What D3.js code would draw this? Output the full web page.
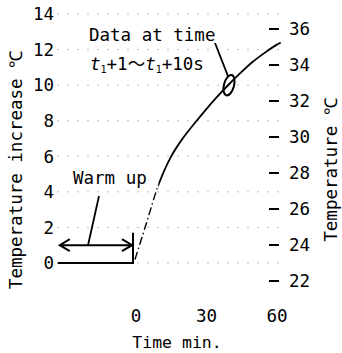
<!DOCTYPE html>
<html>
<head>
<meta charset="utf-8">
<script src="https://cdn.jsdelivr.net/npm/d3@7"></script>
<style>
  body { margin: 0; background: #fff; }
  svg text { font-family: "DejaVu Sans Mono", "Liberation Mono", monospace; fill: #000; }
</style>
</head>
<body>
<svg id="chart" width="342" height="353"></svg>
<script>
// time axis (min)
const timeTicks = [0, 30, 60];
// left axis: temperature increase
const riseTicks = [0, 2, 4, 6, 8, 10, 12, 14];
// right axis: absolute temperature
const tempTicks = [22, 24, 26, 28, 30, 32, 34, 36];

// warm-up part of the curve (dash-dot)
const warmTime = [0, 5];
const warmRise = [0.2, 2.3];
// measured curve (solid from 10 min)
const curveTime = [10, 15, 20, 25, 30, 35, 40, 45, 50, 55, 60, 62];
const curveRise = [4.4, 5.9, 6.95, 7.8, 8.6, 9.35, 10.05, 10.7, 11.3, 11.8, 12.25, 12.4];

// highlighted sample
const markTime = 40;
const markRise = 10.0;
const warmStart = -32;   // start of warm-up bracket (min)
const warmLevel = 1;     // bracket arrow height (°C increase)
const solidFrom = 10;    // curve drawn solid from here on

const svg = d3.select("#chart");

const x = d3.scaleLinear().domain([0, 60]).range([135, 276]);
const y = d3.scaleLinear().domain([0, 14]).range([263, 14]);
const y2 = d3.scaleLinear().domain([22, 36]).range([281, 29]);

// faint dotted grid lines
svg.append("g").selectAll("line")
    .data(riseTicks)
    .join("line")
    .attr("x1", 57).attr("x2", 280)
    .attr("y1", d => y(d)).attr("y2", d => y(d))
    .attr("stroke", "#b5b5b5")
    .attr("stroke-width", 0.9)
    .attr("stroke-dasharray", "2,8");

// left tick labels
svg.append("g").selectAll("text")
    .data(riseTicks)
    .join("text")
    .attr("x", 54)
    .attr("y", d => y(d))
    .attr("dy", "0.36em")
    .attr("text-anchor", "end")
    .style("font-size", "17.5px")
    .text(d => d);

// right axis: short dashes + labels
svg.append("g").selectAll("line")
    .data(tempTicks)
    .join("line")
    .attr("x1", 269).attr("x2", 279)
    .attr("y1", d => y2(d)).attr("y2", d => y2(d))
    .attr("stroke", "#000")
    .attr("stroke-width", 2);

svg.append("g").selectAll("text")
    .data(tempTicks)
    .join("text")
    .attr("x", 289)
    .attr("y", d => y2(d))
    .attr("dy", "0.36em")
    .style("font-size", "17.5px")
    .text(d => d);

// bottom tick labels
svg.append("g").selectAll("text")
    .data(timeTicks)
    .join("text")
    .attr("x", d => x(d) + 1)
    .attr("y", 322)
    .attr("text-anchor", "middle")
    .style("font-size", "17.5px")
    .text(d => d);

svg.append("text")
    .attr("x", 177).attr("y", 348)
    .attr("text-anchor", "middle")
    .style("font-size", "16.5px")
    .text("Time min.");

// axis titles
svg.append("text")
    .attr("transform", "translate(22,170) rotate(-90)")
    .attr("text-anchor", "middle")
    .style("font-size", "17.5px")
    .text("Temperature increase \u2103");

svg.append("text")
    .attr("transform", "translate(337,170) rotate(-90)")
    .attr("text-anchor", "middle")
    .style("font-size", "17.5px")
    .text("Temperature \u2103");

// curve: one smooth path, dash-dot before solidFrom, solid after
const defs = svg.append("defs");
defs.append("clipPath").attr("id", "clip-warm")
  .append("rect")
    .attr("x", 0).attr("y", 0)
    .attr("width", x(solidFrom)).attr("height", 353);
defs.append("clipPath").attr("id", "clip-solid")
  .append("rect")
    .attr("x", x(solidFrom)).attr("y", 0)
    .attr("width", 342 - x(solidFrom)).attr("height", 353);

const line = d3.line()
    .x(d => x(d[0]))
    .y(d => y(d[1]))
    .curve(d3.curveCatmullRom);

const allPts = d3.zip(warmTime.concat(curveTime), warmRise.concat(curveRise));

svg.append("path")
    .datum(allPts)
    .attr("d", line)
    .attr("clip-path", "url(#clip-warm)")
    .attr("fill", "none")
    .attr("stroke", "#000")
    .attr("stroke-width", 1.4)
    .attr("stroke-dasharray", "8,3,1.5,3");

svg.append("path")
    .datum(allPts)
    .attr("d", line)
    .attr("clip-path", "url(#clip-solid)")
    .attr("fill", "none")
    .attr("stroke", "#000")
    .attr("stroke-width", 1.8);

// warm-up bracket
const bx0 = x(warmStart), bx1 = x(0) - 2;
svg.append("line")
    .attr("x1", bx0 - 2).attr("x2", bx1)
    .attr("y1", y(0)).attr("y2", y(0))
    .attr("stroke", "#000").attr("stroke-width", 2);
svg.append("line")
    .attr("x1", bx1).attr("x2", bx1)
    .attr("y1", y(0) + 1).attr("y2", y(1.7))
    .attr("stroke", "#000").attr("stroke-width", 2);

const ay = y(warmLevel);
svg.append("line")
    .attr("x1", bx0).attr("x2", bx1 - 1)
    .attr("y1", ay).attr("y2", ay)
    .attr("stroke", "#000").attr("stroke-width", 2);
svg.append("path")
    .attr("d", `M${bx0 + 10},${ay - 6}L${bx0},${ay}L${bx0 + 10},${ay + 6}`)
    .attr("fill", "none").attr("stroke", "#000").attr("stroke-width", 2);
svg.append("path")
    .attr("d", `M${bx1 - 11},${ay - 6}L${bx1 - 1},${ay}L${bx1 - 11},${ay + 6}`)
    .attr("fill", "none").attr("stroke", "#000").attr("stroke-width", 2);

svg.append("line")
    .attr("x1", 88).attr("y1", ay)
    .attr("x2", 99).attr("y2", 196)
    .attr("stroke", "#000").attr("stroke-width", 1.8);

svg.append("text")
    .attr("x", 73).attr("y", 184)
    .style("font-size", "17.5px")
    .text("Warm up");

// data window annotation
const mx = x(markTime), my = y(markRise);
svg.append("ellipse")
    .attr("cx", 0).attr("cy", 0)
    .attr("rx", 5).attr("ry", 10.5)
    .attr("transform", `translate(${mx},${my}) rotate(15)`)
    .attr("fill", "none").attr("stroke", "#000").attr("stroke-width", 2);

svg.append("line")
    .attr("x1", 215).attr("y1", 43)
    .attr("x2", mx - 1).attr("y2", my - 9)
    .attr("stroke", "#000").attr("stroke-width", 1.8);

svg.append("text")
    .attr("x", 89).attr("y", 41)
    .style("font-size", "17.5px")
    .text("Data at time");

const t2 = svg.append("text")
    .attr("x", 90).attr("y", 70)
    .style("font-size", "17.5px");
t2.append("tspan").style("font-style", "italic").text("t");
t2.append("tspan").attr("dy", 3).style("font-size", "10px").text("1");
t2.append("tspan").attr("dy", -3).text("+1");
t2.append("tspan").style("font-family", "'Noto Sans CJK JP'").text("\uFF5E");
t2.append("tspan").style("font-style", "italic").text("t");
t2.append("tspan").attr("dy", 3).style("font-size", "10px").text("1");
t2.append("tspan").attr("dy", -3).text("+10s");
</script>
</body>
</html>
